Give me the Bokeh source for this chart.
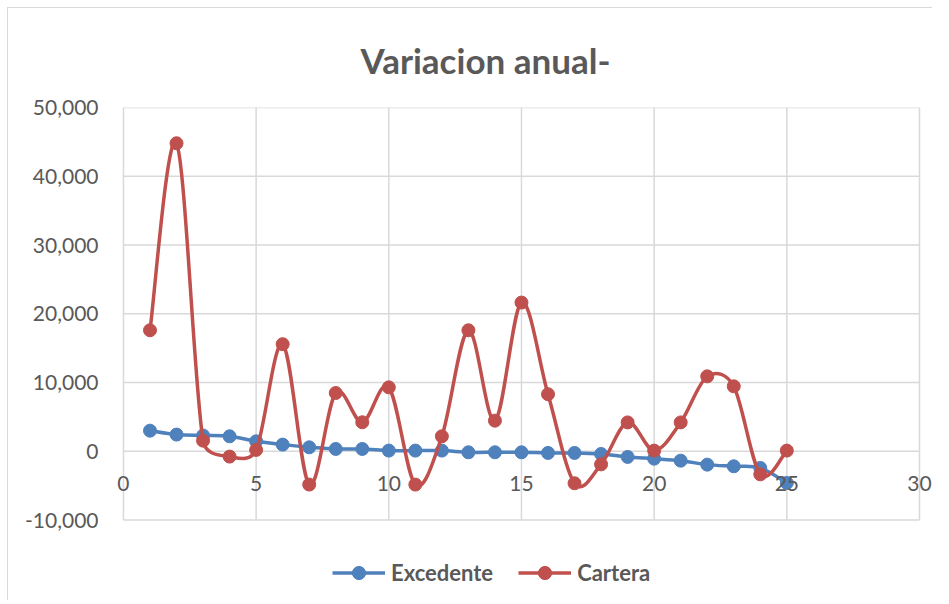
from bokeh.plotting import figure
from bokeh.models import (FixedTicker, NumeralTickFormatter, Legend, LegendItem,
                          ColumnDataSource, Range1d)
from bokeh.core.properties import value
from bokeh.embed import file_html
from bokeh.resources import INLINE

# ---- data ----
periods = list(range(1, 26))
excedente = [3000, 2430, 2300, 2180, 1450, 970, 580, 340, 340, 100, 100, 100,
             -145, -145, -145, -240, -240, -390, -820, -1070, -1360, -1940,
             -2180, -2420, -4600]
cartera = [17600, 44800, 1550, -770, 200, 15580, -4840, 8480, 4220, 9300,
           -4840, 2180, 17600, 4460, 21630, 8300, -4650, -1900, 4200, 100,
           4200, 10900, 9450, -3350, 100]
series_names = ["Excedente", "Cartera"]
x_ticks = [0, 5, 10, 15, 20, 25, 30]
y_ticks = [-10000, 0, 10000, 20000, 30000, 40000, 50000]

TXT = "#595959"
GRID = "#d9d9d9"
FONT = "Lato"
COLORS = ["#4f81bd", "#c0504d"]

# plot geometry: the visible plot area is x 0..30, y -10,000..50,000;
# the frame is a bit larger so that the crossing-axis labels and the
# legend below the plot area are not clipped.
PX_X = 796 / 30.0            # pixels per x unit
PX_Y = 412.5 / 60000.0       # pixels per y unit
X_LO, X_HI = -0.3, 30.49
Y_LO, Y_HI = -21700, 50000
FRAME_W = int(round((X_HI - X_LO) * PX_X))
FRAME_H = int(round((Y_HI - Y_LO) * PX_Y))


def smooth_segments(xs, ys):
    """Cubic Bezier control points following Excel's smoothed-line rule."""
    n = len(xs)
    P = [(x * PX_X, y * PX_Y) for x, y in zip(xs, ys)]

    def dist(a, b):
        return ((a[0] - b[0]) ** 2 + (a[1] - b[1]) ** 2) ** 0.5

    d = dict(x0=[], y0=[], x1=[], y1=[], cx0=[], cy0=[], cx1=[], cy1=[])
    for i in range(n - 1):
        p0 = P[max(i - 1, 0)]
        p1, p2 = P[i], P[i + 1]
        p3 = P[min(i + 2, n - 1)]
        d12, d02, d13 = dist(p1, p2), dist(p0, p2), dist(p1, p3)
        s1 = 1 / 6.0 if d02 / 6.0 < d12 / 2.0 else d12 / (2.0 * d02)
        s2 = 1 / 6.0 if d13 / 6.0 < d12 / 2.0 else d12 / (2.0 * d13)
        c1 = (p1[0] + s1 * (p2[0] - p0[0]), p1[1] + s1 * (p2[1] - p0[1]))
        c2 = (p2[0] - s2 * (p3[0] - p1[0]), p2[1] - s2 * (p3[1] - p1[1]))
        d["x0"].append(xs[i]); d["y0"].append(ys[i])
        d["x1"].append(xs[i + 1]); d["y1"].append(ys[i + 1])
        d["cx0"].append(c1[0] / PX_X); d["cy0"].append(c1[1] / PX_Y)
        d["cx1"].append(c2[0] / PX_X); d["cy1"].append(c2[1] / PX_Y)
    return d


p = figure(frame_width=FRAME_W, frame_height=FRAME_H, output_backend="svg",
           toolbar_location=None,
           x_range=Range1d(X_LO, X_HI), y_range=Range1d(Y_LO, Y_HI),
           min_border_left=107, min_border_right=0, min_border_top=99,
           min_border_bottom=0, title="Variacion anual-",
           styles={"margin-left": "7px", "margin-top": "7px",
                   "border-left": "1px solid #d9d9d9",
                   "border-top": "1px solid #d9d9d9"})

p.title.text_font = FONT
p.title.text_font_style = "bold"
p.title.text_font_size = "35px"
p.title.text_color = TXT
p.title.align = "left"
p.title.offset = 245
p.title.standoff = 53

# plot-area grid (0..30 x -10,000..50,000), drawn from the tick lists
p.outline_line_color = None
p.grid.visible = False
p.segment(x0=x_ticks, y0=[y_ticks[0]] * len(x_ticks),
          x1=x_ticks, y1=[y_ticks[-1]] * len(x_ticks),
          line_color=GRID, line_width=1.5, level="underlay")
p.segment(x0=[x_ticks[0]] * len(y_ticks), y0=y_ticks,
          x1=[x_ticks[-1]] * len(y_ticks), y1=y_ticks,
          line_color=GRID, line_width=1.5, level="underlay")

p.xaxis.visible = False

p.yaxis.ticker = FixedTicker(ticks=y_ticks)
p.yaxis.formatter = NumeralTickFormatter(format="0,0")
p.yaxis.axis_line_color = None
p.yaxis.major_tick_line_color = None
p.yaxis.minor_tick_line_color = None
p.yaxis.major_label_standoff = 11
p.yaxis.major_label_text_font = FONT
p.yaxis.major_label_text_font_size = "21px"
p.yaxis.major_label_text_color = TXT

items = []
for name, ys, col in zip(series_names, [excedente, cartera], COLORS):
    seg = ColumnDataSource(smooth_segments(periods, ys))
    r_line = p.bezier(x0="x0", y0="y0", x1="x1", y1="y1", cx0="cx0", cy0="cy0",
                      cx1="cx1", cy1="cy1", source=seg, line_color=col,
                      line_width=3.5)
    r_pts = p.scatter(periods, ys, size=13, marker="circle", fill_color=col,
                      line_color=col)
    items.append(LegendItem(label=name, renderers=[r_line, r_pts]))

# horizontal axis crosses at y = 0: its labels sit just below that line
p.text(x=x_ticks, y=[0] * len(x_ticks), text=[str(t) for t in x_ticks],
       text_font=value(FONT), text_font_size="21px", text_color=TXT,
       text_align="center", text_baseline="middle", y_offset=32)

legend = Legend(items=items, orientation="horizontal", location=(217, 11))
legend.label_text_font = FONT
legend.label_text_font_style = "bold"
legend.label_text_font_size = "22px"
legend.label_text_color = TXT
legend.glyph_width = 53
legend.glyph_height = 33
legend.label_standoff = 6
legend.spacing = 25
legend.padding = 0
legend.margin = 0
legend.border_line_color = None
legend.background_fill_alpha = 0
p.add_layout(legend)

open("out.html", "w").write(file_html(p, INLINE))
